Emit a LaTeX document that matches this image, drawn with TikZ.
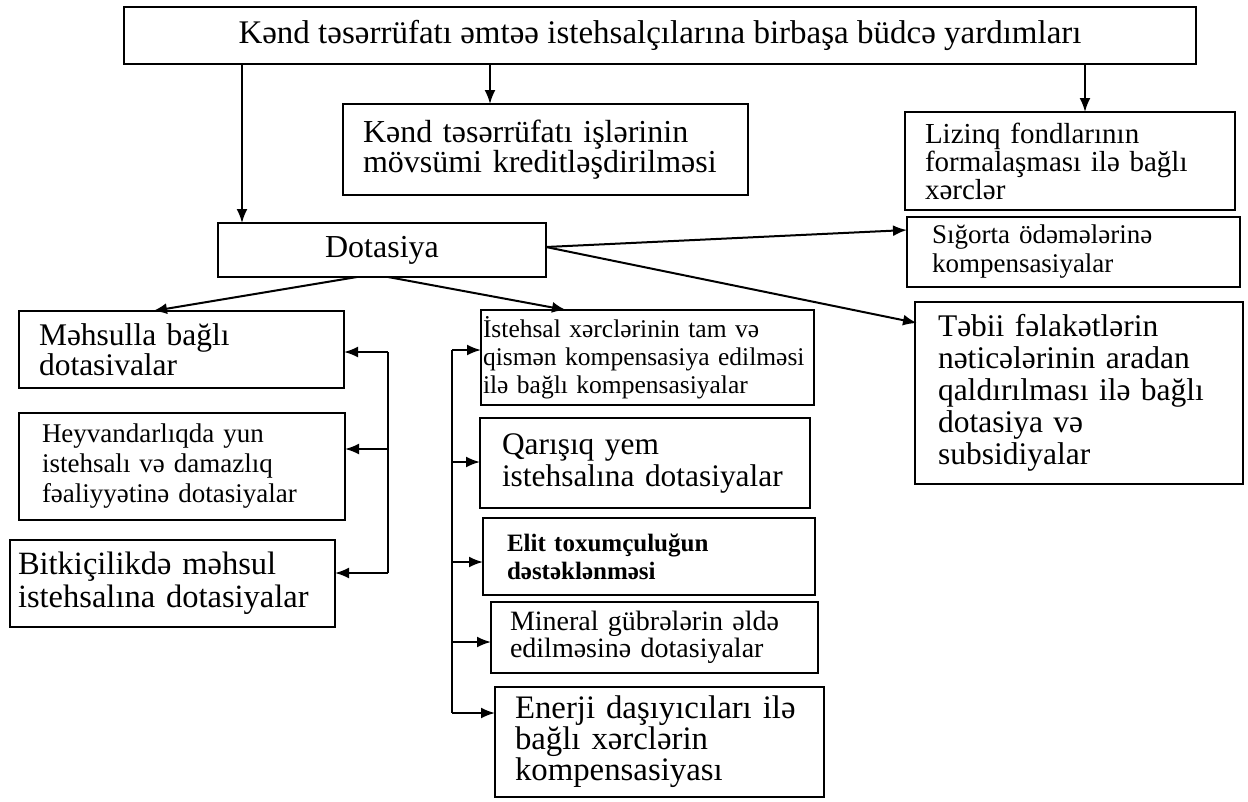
\documentclass[tikz,border=0pt]{standalone}
\usepackage{fontspec}
\setmainfont{Liberation Serif}
\usetikzlibrary{arrows.meta}
\begin{document}
\begin{tikzpicture}[x=1pt,y=-1pt,
  box/.style={draw, line width=2.6pt, inner sep=0pt, outer sep=0pt, align=left},
  arr/.style={line width=2pt, -{Latex[length=14pt,width=11pt]}},
  ln/.style={line width=2pt}]
\useasboundingbox (0,0) rectangle (1248,801);
% boxes
\node[box, align=center, minimum width=1072pt, minimum height=57pt, font=\fontsize{33}{36}\selectfont] (top) at (660,35.5) {Kənd təsərrüfatı əmtəə istehsalçılarına birbaşa büdcə yardımları};
\node[box, minimum width=405pt, minimum height=91pt, text width=365pt, font=\fontsize{32}{30}\selectfont] (kend) at (545.5,149.5) {\mbox{Kənd təsərrüfatı işlərinin}\\\mbox{mövsümi kreditləşdirilməsi}};
\node[box, minimum width=330pt, minimum height=98pt, text width=290pt, font=\fontsize{29}{28}\selectfont] (lizinq) at (1070,161) {\mbox{Lizinq fondlarının}\\\mbox{formalaşması ilə bağlı}\\xərclər};
\node[box, minimum width=333pt, minimum height=70pt, text width=283pt, font=\fontsize{27}{29}\selectfont] (sigorta) at (1073.5,252) {\mbox{Sığorta ödəmələrinə}\\kompensasiyalar};
\node[box, minimum width=328pt, minimum height=182pt, text width=282pt, font=\fontsize{31.5}{32}\selectfont] (tebii) at (1079,393) {\mbox{Təbii fəlakətlərin}\\\mbox{nəticələrinin aradan}\\\mbox{qaldırılması ilə bağlı}\\\mbox{dotasiya və}\\subsidiyalar};
\node[box, align=center, minimum width=328pt, minimum height=54pt, font=\fontsize{32}{32}\selectfont] (dot) at (382,250) {Dotasiya};
\node[box, minimum width=325pt, minimum height=77pt, text width=285pt, font=\fontsize{31.5}{30}\selectfont] (mehsul) at (181.5,349.5) {\mbox{Məhsulla bağlı}\\dotasivalar};
\node[box, minimum width=326pt, minimum height=107pt, text width=280pt, font=\fontsize{27}{30}\selectfont] (heyvan) at (182,466.5) {\mbox{Heyvandarlıqda yun}\\\mbox{istehsalı və damazlıq}\\\mbox{fəaliyyətinə dotasiyalar}};
\node[box, minimum width=325pt, minimum height=87pt, text width=309pt, font=\fontsize{32.5}{33}\selectfont] (bitki) at (172.5,583.5) {\mbox{Bitkiçilikdə məhsul}\\\mbox{istehsalına dotasiyalar}};
\node[box, minimum width=333pt, minimum height=95pt, text width=329pt, font=\fontsize{25.5}{28}\selectfont] (istehsal) at (647.5,357.5) {\mbox{İstehsal xərclərinin tam və}\\\mbox{qismən kompensasiya edilməsi}\\\mbox{ilə bağlı kompensasiyalar}};
\node[box, minimum width=330pt, minimum height=90pt, text width=286pt, font=\fontsize{31.4}{32}\selectfont] (qarisiq) at (645,463) {\mbox{Qarışıq yem}\\\mbox{istehsalına dotasiyalar}};
\node[box, minimum width=332pt, minimum height=77pt, text width=284pt, font=\fontsize{25}{28}\selectfont\bfseries] (elit) at (649,556.5) {\mbox{Elit toxumçuluğun}\\dəstəklənməsi};
\node[box, minimum width=327pt, minimum height=71pt, text width=289pt, font=\fontsize{28}{27}\selectfont] (mineral) at (654.5,637.5) {\mbox{Mineral gübrələrin əldə}\\\mbox{edilməsinə dotasiyalar}};
\node[box, minimum width=329pt, minimum height=110pt, text width=289pt, font=\fontsize{32.8}{31}\selectfont] (enerji) at (659.5,742) {\mbox{Enerji daşıyıcıları ilə}\\\mbox{bağlı xərclərin}\\kompensasiyası};
% helper coordinates
\coordinate (xa) at (242,0);
\coordinate (xb) at (490,0);
\coordinate (xc) at (1085,0);
\coordinate (ds) at (546,247);
\coordinate (sgin) at (907,230);
\coordinate (tbin) at (917,323);
\coordinate (d1) at (357,277);
\coordinate (d2) at (388,277);
\coordinate (m1) at (153,311);
\coordinate (i1) at (566,310);
\coordinate (lbtop) at (388,352);
\coordinate (lbmid) at (388,449);
\coordinate (lbbot) at (388,573);
\coordinate (rbtop) at (452,350);
\coordinate (rb2) at (452,462);
\coordinate (rb3) at (452,562);
\coordinate (rb4) at (452,642);
\coordinate (rbbot) at (452,713);
% connectors from top
\draw[arr] (xa |- top.south) -- (xa |- dot.north);
\draw[arr] (xb |- top.south) -- (xb |- kend.north);
\draw[arr] (xc |- top.south) -- (xc |- lizinq.north);
% from Dotasiya
\draw[arr] (ds) -- (sgin);
\draw[arr] (ds) -- (tbin);
\draw[arr] (d1) -- (m1);
\draw[arr] (d2) -- (i1);
% left bracket
\draw[ln] (lbtop) -- (lbbot);
\draw[arr] (lbtop) -- (lbtop -| mehsul.east);
\draw[arr] (lbmid) -- (lbmid -| heyvan.east);
\draw[arr] (lbbot) -- (lbbot -| bitki.east);
% right bracket
\draw[ln] (rbtop) -- (rbbot);
\draw[arr] (rbtop) -- (rbtop -| istehsal.west);
\draw[arr] (rb2) -- (rb2 -| qarisiq.west);
\draw[arr] (rb3) -- (rb3 -| elit.west);
\draw[arr] (rb4) -- (rb4 -| mineral.west);
\draw[arr] (rbbot) -- (rbbot -| enerji.west);
\end{tikzpicture}
\end{document}
